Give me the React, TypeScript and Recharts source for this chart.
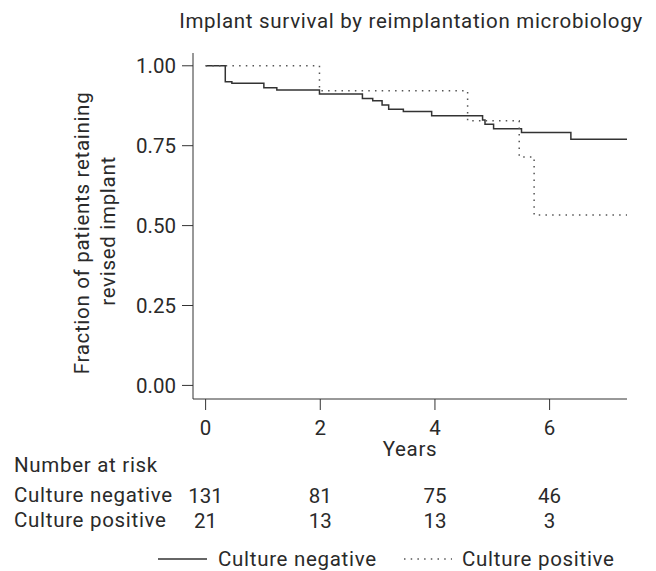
import React from "react";
import { LineChart, Line, XAxis, YAxis, Customized } from "recharts";

const negTimes = [0, 0.343, 0.458, 1.016, 1.242, 1.986, 2.735, 2.915, 3.078, 3.193, 3.449, 3.943, 4.831, 4.873, 5.023, 5.51, 6.371, 7.35];
const negSurv = [1, 0.95, 0.945, 0.931, 0.924, 0.912, 0.898, 0.891, 0.877, 0.864, 0.857, 0.844, 0.83, 0.817, 0.803, 0.791, 0.77, 0.77];
const posTimes = [0, 1.986, 4.57, 5.47, 5.73, 7.35];
const posSurv = [1, 0.922, 0.828, 0.715, 0.533, 0.533];

const riskTimes = [0, 2, 4, 6];
const riskNeg = [131, 81, 75, 46];
const riskPos = [21, 13, 13, 3];
const yTicks = [0, 0.25, 0.5, 0.75, 1];

const seriesNames = ["Culture negative", "Culture positive"];
const title = "Implant survival by reimplantation microbiology";
const yLabelLines = ["Fraction of patients retaining", "revised implant"];
const xLabel = "Years";
const riskTitle = "Number at risk";

const negData = negTimes.map((t, i) => ({ t, v: negSurv[i] }));
const posData = posTimes.map((t, i) => ({ t, v: posSurv[i] }));

const FONT = "Roboto, sans-serif";
const FS = 20.5;
const LS = 0.7;
const TXT = "#2a2a2a";
const X_DOMAIN: [number, number] = [-0.22, 7.35];

const Overlay = () => (
  <g fontFamily={FONT} fontSize={FS} fill={TXT} letterSpacing={LS}>
    <text x={411} y={28} textAnchor="middle" fill={TXT}>{title}</text>
    <text transform="translate(82,233) rotate(-90)" textAnchor="middle" dominantBaseline="central" fill={TXT}>{yLabelLines[0]}</text>
    <text transform="translate(108,231) rotate(-90)" textAnchor="middle" dominantBaseline="central" fill={TXT}>{yLabelLines[1]}</text>
    <text x={14} y={472} fill={TXT}>{riskTitle}</text>
    <text x={14} y={502} fill={TXT}>{seriesNames[0]}</text>
    <text x={14} y={527} fill={TXT}>{seriesNames[1]}</text>
    <line x1={158} x2={207} y1={559} y2={559} stroke="#333" strokeWidth={1.5} />
    <text x={218} y={566} fill={TXT}>{seriesNames[0]}</text>
    <line x1={404} x2={452} y1={559} y2={559} stroke="#555" strokeWidth={1.5} strokeDasharray="1.5 5.2" />
    <text x={462} y={566} fill={TXT}>{seriesNames[1]}</text>
  </g>
);

export default function App() {
  return (
    <div style={{ position: "absolute", left: 0, top: 0, width: 656, height: 571, background: "#fff" }}>
      <LineChart
        width={656}
        height={571}
        margin={{ top: 53, right: 29, left: 0, bottom: 43 }}
        style={{ fontFamily: FONT }}
      >
        <XAxis
          xAxisId="main"
          dataKey="t"
          type="number"
          domain={X_DOMAIN}
          allowDataOverflow
          ticks={riskTimes}
          tickSize={11}
          tickMargin={10}
          height={57}
          stroke="#333"
          tick={{ fontSize: FS, fill: TXT }}
          label={{ value: xLabel, position: "insideBottom", offset: 0, fontSize: FS, fill: TXT, letterSpacing: LS }}
        />
        <XAxis
          xAxisId="neg"
          dataKey="t"
          type="number"
          domain={X_DOMAIN}
          allowDataOverflow
          ticks={riskTimes}
          tickFormatter={(v: number) => String(riskNeg[riskTimes.indexOf(v)])}
          axisLine={false}
          tickLine={false}
          tickSize={0}
          tickMargin={32}
          height={46}
          tick={{ fontSize: FS, fill: TXT }}
        />
        <XAxis
          xAxisId="pos"
          dataKey="t"
          type="number"
          domain={X_DOMAIN}
          allowDataOverflow
          ticks={riskTimes}
          tickFormatter={(v: number) => String(riskPos[riskTimes.indexOf(v)])}
          axisLine={false}
          tickLine={false}
          tickSize={0}
          tickMargin={11}
          height={26}
          tick={{ fontSize: FS, fill: TXT }}
        />
        <YAxis
          type="number"
          domain={[-0.0425, 1.04]}
          allowDataOverflow
          ticks={yTicks}
          tickFormatter={(v: number) => v.toFixed(2)}
          tickSize={11}
          tickMargin={6}
          width={193}
          stroke="#333"
          tick={{ fontSize: FS, fill: TXT }}
        />
        <Line
          xAxisId="neg"
          data={negData}
          dataKey="v"
          stroke="transparent"
          strokeOpacity={0}
          dot={false}
          activeDot={false}
          legendType="none"
          isAnimationActive={false}
        />
        <Line
          xAxisId="pos"
          data={posData}
          dataKey="v"
          stroke="transparent"
          strokeOpacity={0}
          dot={false}
          activeDot={false}
          legendType="none"
          isAnimationActive={false}
        />
        <Line
          xAxisId="main"
          data={negData}
          dataKey="v"
          type="stepAfter"
          stroke="#333"
          strokeWidth={1.5}
          dot={false}
          isAnimationActive={false}
          name={seriesNames[0]}
        />
        <Line
          xAxisId="main"
          data={posData}
          dataKey="v"
          type="stepAfter"
          stroke="#555"
          strokeWidth={1.5}
          strokeDasharray="1.5 5.2"
          dot={false}
          isAnimationActive={false}
          name={seriesNames[1]}
        />
        <Customized component={<Overlay />} />
      </LineChart>
    </div>
  );
}
